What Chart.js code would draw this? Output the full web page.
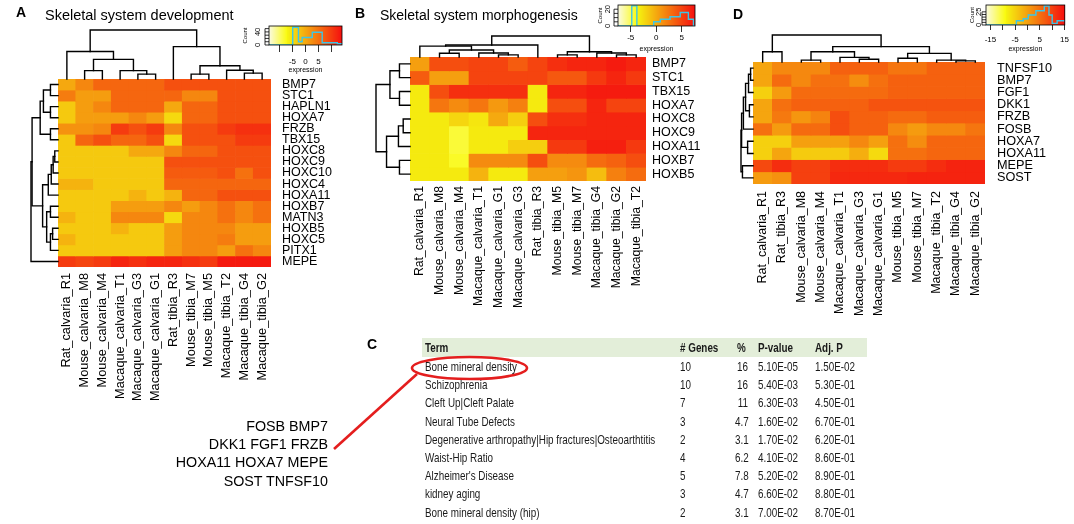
<!DOCTYPE html>
<html>
<head>
<meta charset="utf-8">
<title>Skeletal system heatmaps</title>
<script src="https://cdn.jsdelivr.net/npm/chart.js@4.4.1/dist/chart.umd.min.js"></script>
<style>
  html, body { margin: 0; padding: 0; background: #fff; }
  #page { position: relative; width: 1074px; height: 524px; overflow: hidden; font-family: "Liberation Sans", Arial, sans-serif; color: #000; }
  #page canvas { position: absolute; }
  .t { position: absolute; white-space: nowrap; line-height: 1; }
  .panel { font-weight: bold; font-size: 14px; }
  .ttl { font-size: 14.5px; }
  .gl { font-size: 14.3px; }
  .cell { position: absolute; white-space: nowrap; font-size: 13.5px; line-height: 14px; color: #1a1a1a; transform: scaleX(0.73); transform-origin: left center; }
  .cell.r { transform-origin: right center; text-align: right; }
  .cell.h { font-weight: bold; }
  #band { position: absolute; left: 422px; top: 338px; width: 445px; height: 19px; background: #e3eed9; }
  #links { position: absolute; left: 0; top: 0; }
</style>
</head>
<body>
<div id="page">
  <canvas id="heatA" width="360" height="410" style="left:0;top:0"></canvas>
  <canvas id="heatB" width="360" height="330" style="left:370px;top:0"></canvas>
  <canvas id="heatD" width="339" height="330" style="left:735px;top:0"></canvas>
  <canvas id="keyA" width="109" height="57" style="left:239px;top:20px"></canvas>
  <canvas id="keyB" width="107" height="54" style="left:594px;top:0"></canvas>
  <canvas id="keyD" width="108" height="53" style="left:966px;top:0"></canvas>
  <div id="band"></div>
  <svg id="links" width="1074" height="524"></svg>
</div>
<script>
// ---- panel A : skeletal system development ----
const colsA = ['Rat_calvaria_R1', 'Mouse_calvaria_M8', 'Mouse_calvaria_M4', 'Macaque_calvaria_T1', 'Macaque_calvaria_G3', 'Macaque_calvaria_G1',
  'Rat_tibia_R3', 'Mouse_tibia_M7', 'Mouse_tibia_M5', 'Macaque_tibia_T2', 'Macaque_tibia_G4', 'Macaque_tibia_G2'];
const genesA = ['BMP7', 'STC1', 'HAPLN1', 'HOXA7', 'FRZB', 'TBX15', 'HOXC8', 'HOXC9', 'HOXC10', 'HOXC4', 'HOXA11', 'HOXB7', 'MATN3', 'HOXB5', 'HOXC5', 'PITX1', 'MEPE'];
const valuesA = [
  [0, 3, 6, 6, 6, 6, 8, 8, 8, 8, 8, 8],
  [4, 1, 1, 6, 6, 6, 6, 3, 3, 8, 8, 8],
  [-3, 1, 3, 6, 6, 6, 0, 6, 6, 8, 8, 8],
  [-3, 1, 1, 1, 3, 1, -4.5, 6, 6, 8, 8, 8],
  [2, 2, 3, 10, 8, 10, 3, 8, 8, 10, 11, 11],
  [-3, 6, 8, 6, 6, 8, -4.5, 8, 8, 8, 10, 10],
  [-3, -3, -3, -3, 0, 0, 3, 6, 6, 8, 8, 8],
  [-3, -3, -3, -3, -3, -3, 8, 8, 8, 8, 8, 8],
  [-3, -3, -3, -3, -3, -3, 7, 7, 7, 8, 5, 8],
  [-1, -1, -3, -3, -3, -3, 6, 6, 6, 6, 6, 6],
  [-3, -3, -3, -3, -1, -3, -1, 6, 6, 8, 8, 8],
  [-3, -3, -3, 1, 1, 1, 3, 1, 3, 5, 3, 5],
  [-1, -3, -3, 3, 3, 3, -4.5, 3, 3, 5, 3, 5],
  [-3, -3, -3, -1, -3, -3, 1, 3, 3, 3, 1, 1],
  [-1, -3, -3, -3, -3, -3, 1, 3, 3, 4, 1, 1],
  [-3, -3, -3, -3, -3, -3, 1, 3, 3, 1, 5, 3],
  [10, 9, 10, 12, 11, 12, 12, 11, 10, 13, 13, 13]
];
// trees: [left, right, height]; leaves are row / column indices
const rowTreeA = [[[[[0, 1, 0.28], [2, 3, 0.28], 0.54], [4, 5, 0.28], 0.66],
  [[[[[6, 7, 0.12], 8, 0.18], 9, 0.25], 10, 0.36], [[11, 12, 0.28], [[13, 14, 0.2], 15, 0.28], 0.42], 0.57], 0.96], 16, 1];
const colTreeA = [[0, [[1, 2, 0.17], [3, [4, 5, 0.1], 0.17], 0.4], 0.56], [6, [[7, 8, 0.1], [9, [10, 11, 0.12], 0.18], 0.27], 0.66], 1];
const rangeA = [-14, 14];
const histEdgesA = [-14, -4.9, -2.7, -1.3, 2.6, 6.4, 12.2, 14];
const histCountsA = [0, 54, 10, 23, 39, 7, 4];

// ---- panel B : skeletal system morphogenesis ----
const colsB = ['Rat_calvaria_R1', 'Mouse_calvaria_M8', 'Mouse_calvaria_M4', 'Macaque_calvaria_T1', 'Macaque_calvaria_G1', 'Macaque_calvaria_G3',
  'Rat_tibia_R3', 'Mouse_tibia_M5', 'Mouse_tibia_M7', 'Macaque_tibia_G4', 'Macaque_tibia_G2', 'Macaque_tibia_T2'];
const genesB = ['BMP7', 'STC1', 'TBX15', 'HOXA7', 'HOXC8', 'HOXC9', 'HOXA11', 'HOXB7', 'HOXB5'];
const valuesB = [
  [0.5, 4.5, 4.5, 5, 5, 3.8, 5, 6, 6.5, 6.5, 7, 6.5],
  [3.8, 0.5, 0.5, 5, 5, 5, 5, 4, 4, 5.5, 6.5, 5.5],
  [-3.2, 4.5, 6, 6, 6, 6, -3.2, 6.5, 6.5, 7, 7, 7],
  [-3.2, 2.5, 1.5, 2.5, 0.8, 2, -3.2, 4.5, 4.5, 6.5, 5, 5],
  [-3.2, -3.2, -2.2, -3, 0, -1.8, 4.5, 6, 6, 6.5, 6.5, 6.5],
  [-3.2, -3.2, -4.5, -3.2, -3.2, -3.2, 6.5, 6.5, 6.5, 6.5, 6.5, 6.5],
  [-3.2, -3.2, -4.5, -3.2, -3.2, -1.8, -1.8, 5.5, 5.5, 6.8, 6.8, 5.5],
  [-3.2, -3.2, -4.2, 1.5, 1.5, 1.5, 4.5, 1.5, 1.5, 3, 3.5, 4.5],
  [-3.2, -3.2, -3.2, -0.5, -3.2, -3.2, 0.5, 0.5, 1, -1, 2, 3]
];
const rowTreeB = [[[0, 1, 0.31], [2, 3, 0.31], 0.59], [[[4, 5, 0.2], 6, 0.34], [7, 8, 0.31], 0.69], 1];
const colTreeB = [[[0, [[1, 2, 0.18], [3, [4, 5, 0.1], 0.19], 0.33], 0.52], 6, 0.57], [[7, 8, 0.1], [9, [10, 11, 0.1], 0.19], 0.25], 1];
const rangeB = [-7.5, 7.6];
const histEdgesB = [-7.5, -4.8, -3.8, -0.5, 0.8, 2.7, 4.7, 6.3, 7.3, 7.6];
const histCountsB = [0, 24, 0, 5, 8, 11, 16, 8, 0];

// ---- panel D : bone mineral density genes ----
const colsD = ['Rat_calvaria_R1', 'Rat_tibia_R3', 'Mouse_calvaria_M8', 'Mouse_calvaria_M4', 'Macaque_calvaria_T1', 'Macaque_calvaria_G3',
  'Macaque_calvaria_G1', 'Mouse_tibia_M5', 'Mouse_tibia_M7', 'Macaque_tibia_T2', 'Macaque_tibia_G4', 'Macaque_tibia_G2'];
const genesD = ['TNFSF10', 'BMP7', 'FGF1', 'DKK1', 'FRZB', 'FOSB', 'HOXA7', 'HOXA11', 'MEPE', 'SOST'];
const valuesD = [
  [-0.5, 2.5, 2.5, 2.5, 6.5, 6.5, 6.5, 4.5, 4.5, 6.5, 6.5, 6.5],
  [-0.5, 5.5, 2.5, 5, 5, 2, 5, 6.5, 6.5, 6.5, 6.5, 6.5],
  [-5, 0.5, 5.5, 5.5, 5.5, 5.5, 5.5, 6.5, 6.5, 6.5, 6.5, 6.5],
  [-0.5, 5, 6.5, 6.5, 6.5, 6.5, 8, 8, 8, 8, 8, 8],
  [-0.5, 4, 1, 3, 8.5, 6.5, 6.5, 5.5, 5.5, 7, 7, 7],
  [5, 0.5, 5.5, 5.5, 8.5, 6.5, 6.5, 2.5, 0.5, 2.5, 2.5, 4.5],
  [-5, -5, 0, 0, 0, 2.5, 0, 5, 2, 6, 6, 6],
  [-5, -0.5, -4.5, -4.5, -4.5, -1.5, -6, 5, 5, 6, 6, 6],
  [9, 12, 10, 10, 12, 12, 12, 10.5, 10.5, 12, 13, 13],
  [0.5, 1.5, 10, 10, 12.5, 12.5, 12.5, 12.5, 13, 13, 13, 13]
];
const rowTreeD = [[[[[[0, 1, 0.2], 2, 0.375], [3, 4, 0.3], 0.62], 5, 0.8], [6, 7, 0.45], 0.95], [8, 9, 0.88], 1];
const colTreeD = [[0, 1, 0.38], [[[2, 3, 0.07], [4, [5, 6, 0.1], 0.17], 0.38], [[7, 8, 0.14], [9, [10, 11, 0.04], 0.07], 0.32], 0.57], 1];
const rangeD = [-16.8, 15.1];
const histEdgesD = [-16.8, -4.5, -1.7, 0.3, 3.4, 6.8, 8.7, 10, 12, 15.1];
const histCountsD = [0, 8, 12, 19, 27, 36, 19, 3, 8];

// ---- panel C : enrichment table ----
const tableHead = ['Term', '# Genes', '%', 'P-value', 'Adj. P'];
const terms = ['Bone mineral density', 'Schizophrenia', 'Cleft Up|Cleft Palate', 'Neural Tube Defects',
  'Degenerative arthropathy|Hip fractures|Osteoarthtitis', 'Waist-Hip Ratio', "Alzheimer's Disease", 'kidney aging', 'Bone mineral density (hip)'];
const geneCounts = ['10', '10', '7', '3', '2', '4', '5', '3', '2'];
const percents = ['16', '16', '11', '4.7', '3.1', '6.2', '7.8', '4.7', '3.1'];
const pValues = ['5.10E-05', '5.40E-03', '6.30E-03', '1.60E-02', '1.70E-02', '4.10E-02', '5.20E-02', '6.60E-02', '7.00E-02'];
const adjP = ['1.50E-02', '5.30E-01', '4.50E-01', '6.70E-01', '6.20E-01', '8.60E-01', '8.90E-01', '8.80E-01', '8.70E-01'];
const linkedGenes = ['FOSB BMP7', 'DKK1 FGF1 FRZB', 'HOXA11 HOXA7 MEPE', 'SOST TNFSF10'];

const FONT = '"Liberation Sans", Arial, sans-serif';
const CYAN = '#3ec5e6';
Chart.defaults.font.family = FONT;
Chart.defaults.color = '#000';

function hsv(h, s, v) {
  const f = n => { const k = (n + h / 60) % 6; return v - v * s * Math.max(0, Math.min(k, 4 - k, 1)); };
  return `rgb(${Math.round(f(5) * 255)},${Math.round(f(3) * 255)},${Math.round(f(1) * 255)})`;
}

// reversed heat.colors: pale yellow -> yellow -> orange -> red
function heatColor(v, range) {
  let t = (v - range[0]) / (range[1] - range[0]);
  t = Math.max(0, Math.min(1, t));
  if (t < 0.25) return hsv(60, (0.1 + 0.9 * t / 0.25) * 0.95, 0.98);
  return hsv(60 * (1 - (t - 0.25) / 0.75), 0.94, 0.96);
}

function drawTree(ctx, node, pos, hgt, horiz) {
  if (typeof node === 'number') return { p: pos(node), h: hgt(0) };
  const a = drawTree(ctx, node[0], pos, hgt, horiz);
  const b = drawTree(ctx, node[1], pos, hgt, horiz);
  const h = hgt(node[2]);
  ctx.beginPath();
  if (horiz) {
    ctx.moveTo(a.h, a.p); ctx.lineTo(h, a.p); ctx.lineTo(h, b.p); ctx.lineTo(b.h, b.p);
  } else {
    ctx.moveTo(a.p, a.h); ctx.lineTo(a.p, h); ctx.lineTo(b.p, h); ctx.lineTo(b.p, b.h);
  }
  ctx.stroke();
  return { p: (a.p + b.p) / 2, h };
}

function heatmap(id, m) {
  const dendro = {
    id: 'dendro',
    afterDraw(chart) {
      const { ctx, chartArea: ca, scales: { x, y } } = chart;
      ctx.save();
      ctx.strokeStyle = '#000';
      ctx.lineWidth = 1.4;
      ctx.lineCap = 'square';
      drawTree(ctx, m.colTree, i => x.getPixelForValue(i), h => ca.top - h * m.colSpan, false);
      drawTree(ctx, m.rowTree, i => y.getPixelForValue(i + 0.5), h => ca.left - h * m.rowSpan, true);
      ctx.restore();
    }
  };
  return new Chart(document.getElementById(id), {
    type: 'bar',
    data: {
      labels: m.cols,
      datasets: m.genes.map((g, r) => ({
        label: g,
        data: m.cols.map(() => 1),
        backgroundColor: m.values[r].map(v => heatColor(v, m.range)),
        borderWidth: 0,
        barPercentage: 1,
        categoryPercentage: 1
      }))
    },
    options: {
      responsive: false,
      animation: false,
      events: [],
      layout: { padding: { left: m.padLeft, top: m.padTop, right: 0, bottom: 0 } },
      plugins: { legend: { display: false }, tooltip: { enabled: false } },
      scales: {
        x: {
          stacked: true,
          grid: { display: false, drawTicks: false },
          border: { display: false },
          ticks: { autoSkip: false, minRotation: 90, maxRotation: 90, padding: m.colPad, font: { size: m.colFont } },
          afterFit: s => { s.height = m.bottomH; }
        },
        y: {
          stacked: true,
          reverse: true,
          min: 0,
          max: m.genes.length,
          position: 'right',
          grid: { display: false, drawTicks: false },
          border: { display: false },
          afterBuildTicks: s => { s.ticks = m.genes.map((g, i) => ({ value: i + 0.5 })); },
          ticks: { autoSkip: false, padding: m.rowPad, font: { size: m.rowFont }, callback: v => m.genes[Math.floor(v)] },
          afterFit: s => { s.width = m.rightW; }
        }
      }
    },
    plugins: [dendro]
  });
}

function colorKey(id, k) {
  const pts = k.counts.map((c, i) => ({ x: k.edges[i], y: c }));
  pts.push({ x: k.edges[k.edges.length - 1], y: k.counts[k.counts.length - 1] });
  const deco = {
    id: 'keyDeco',
    beforeDatasetsDraw(chart) {
      const { ctx, chartArea: a, scales: { x } } = chart;
      for (let px = Math.floor(a.left); px < a.right; px++) {
        ctx.fillStyle = heatColor(x.getValueForPixel(px + 0.5), k.range);
        ctx.fillRect(px, a.top, 1, a.bottom - a.top);
      }
    },
    afterDatasetsDraw(chart) {
      const { ctx, chartArea: a, scales: { y } } = chart;
      ctx.save();
      ctx.strokeStyle = '#000';
      ctx.lineWidth = 0.8;
      ctx.strokeRect(a.left, a.top, a.right - a.left, a.bottom - a.top);
      ctx.beginPath();
      k.yTicks.forEach(v => { const py = y.getPixelForValue(v); ctx.moveTo(a.left, py); ctx.lineTo(a.left - 4, py); });
      ctx.moveTo(a.left - 4, y.getPixelForValue(k.yTicks[0]));
      ctx.lineTo(a.left - 4, y.getPixelForValue(k.yTicks[k.yTicks.length - 1]));
      ctx.stroke();
      ctx.fillStyle = '#000';
      ctx.textAlign = 'center';
      ctx.textBaseline = 'middle';
      ctx.font = '7.5px ' + FONT;
      k.yLabels.forEach(v => {
        ctx.save();
        ctx.translate(a.left + k.yLabX, y.getPixelForValue(v));
        ctx.rotate(-Math.PI / 2);
        ctx.fillText(String(v), 0, 0);
        ctx.restore();
      });
      ctx.font = '6px ' + FONT;
      ctx.save();
      ctx.translate(a.left + k.countX, (a.top + a.bottom) / 2);
      ctx.rotate(-Math.PI / 2);
      ctx.fillText('Count', 0, 0);
      ctx.restore();
      ctx.font = '7px ' + FONT;
      ctx.fillText('expression', (a.left + a.right) / 2, a.bottom + k.exprY);
      ctx.restore();
    }
  };
  return new Chart(document.getElementById(id), {
    type: 'line',
    data: { datasets: [{ data: pts, stepped: true, borderColor: CYAN, borderWidth: 1.4, pointRadius: 0, fill: false }] },
    options: {
      responsive: false,
      animation: false,
      events: [],
      layout: { padding: { left: k.padL, top: k.padT, right: k.padR, bottom: 0 } },
      plugins: { legend: { display: false }, tooltip: { enabled: false } },
      scales: {
        x: {
          type: 'linear',
          min: k.range[0],
          max: k.range[1],
          afterBuildTicks: s => { s.ticks = k.xTicks.map(v => ({ value: v })); },
          ticks: { autoSkip: false, maxRotation: 0, padding: k.labPad, font: { size: 8 },
            callback: v => (k.xLabels.includes(v) ? String(v) : '') },
          grid: { drawOnChartArea: false, drawTicks: true, tickLength: k.tickLen, color: '#000', lineWidth: 0.8 },
          border: { display: false },
          afterFit: s => { s.height = k.axisH; }
        },
        y: { display: false, min: 0, max: k.yMax }
      }
    },
    plugins: [deco]
  });
}

heatmap('heatA', { cols: colsA, genes: genesA, values: valuesA, range: rangeA, rowTree: rowTreeA, colTree: colTreeA,
  padLeft: 58, padTop: 79, rightW: 89, bottomH: 143, colSpan: 49, rowSpan: 27, colPad: 6, rowPad: 11, colFont: 12.8, rowFont: 12.5 });
heatmap('heatB', { cols: colsB, genes: genesB, values: valuesB, range: rangeB, rowTree: rowTreeB, colTree: colTreeB,
  padLeft: 40, padTop: 57, rightW: 84, bottomH: 149, colSpan: 21, rowSpan: 34, colPad: 5, rowPad: 6, colFont: 12.2, rowFont: 12.5 });
heatmap('heatD', { cols: colsD, genes: genesD, values: valuesD, range: rangeD, rowTree: rowTreeD, colTree: colTreeD,
  padLeft: 18, padTop: 62, rightW: 89, bottomH: 146, colSpan: 27, rowSpan: 12, colPad: 7, rowPad: 12, colFont: 12.5, rowFont: 12.7 });

colorKey('keyA', { range: rangeA, edges: histEdgesA, counts: histCountsA, yMax: 58, yTicks: [0, 10, 20, 30, 40, 50], yLabels: [0, 40],
  xTicks: [-10, -5, 0, 5, 10], xLabels: [-5, 0, 5], padL: 30, padT: 6, padR: 6, axisH: 32, tickLen: 7, labPad: 5, exprY: 25, yLabX: -11, countX: -24 });
colorKey('keyB', { range: rangeB, edges: histEdgesB, counts: histCountsB, yMax: 25, yTicks: [0, 5, 10, 15, 20], yLabels: [0, 20],
  xTicks: [-5, 0, 5], xLabels: [-5, 0, 5], padL: 24, padT: 5, padR: 6, axisH: 28, tickLen: 6, labPad: 1, exprY: 23, yLabX: -10, countX: -18 });
colorKey('keyD', { range: rangeD, edges: histEdgesD, counts: histCountsD, yMax: 38, yTicks: [0, 5, 10, 15, 20, 25], yLabels: [0, 25],
  xTicks: [-15, -10, -5, 0, 5, 10, 15], xLabels: [-15, -5, 5, 15], padL: 20, padT: 5, padR: 6, axisH: 28, tickLen: 5, labPad: 5, exprY: 24, yLabX: -7, countX: -14 });

// ---- text: panel letters, titles, table, linked gene list ----
const page = document.getElementById('page');
function put(cls, text, x, y, size, extra) {
  const d = document.createElement('div');
  d.className = cls;
  d.textContent = text;
  d.style.left = x + 'px';
  d.style.top = (y - size / 2) + 'px';
  if (extra) Object.assign(d.style, extra);
  page.appendChild(d);
  return d;
}
put('t panel', 'A', 16, 12, 14);
put('t panel', 'B', 355, 13, 14);
put('t panel', 'C', 367, 344, 14);
put('t panel', 'D', 733, 14, 14);
put('t ttl', 'Skeletal system development', 45, 15, 14.5);
put('t ttl', 'Skeletal system morphogenesis', 380, 15, 14, { fontSize: '14px' });

const headX = [425, 680, 737, 758, 815];
tableHead.forEach((h, i) => put('cell h', h, headX[i], 348, 14));
terms.forEach((term, r) => {
  const y = 367 + r * 18.2;
  put('cell', term, 425, y, 14);
  put('cell', geneCounts[r], 680, y, 14);
  const p = put('cell r', percents[r], 0, y, 14);
  p.style.left = 'auto';
  p.style.right = (1074 - 748.5) + 'px';
  put('cell', pValues[r], 758, y, 14);
  put('cell', adjP[r], 815, y, 14);
});

linkedGenes.forEach((g, i) => {
  const d = put('t gl', g, 0, 426 + i * 18.3, 14.3);
  d.style.left = 'auto';
  d.style.right = (1074 - 328) + 'px';
});

const svg = document.getElementById('links');
svg.innerHTML =
  '<ellipse cx="469.5" cy="368" rx="57.5" ry="11" fill="none" stroke="#e41e1e" stroke-width="2.6"/>' +
  '<line x1="417" y1="374" x2="334" y2="449" stroke="#e41e1e" stroke-width="2.6"/>';
</script>
</body>
</html>
